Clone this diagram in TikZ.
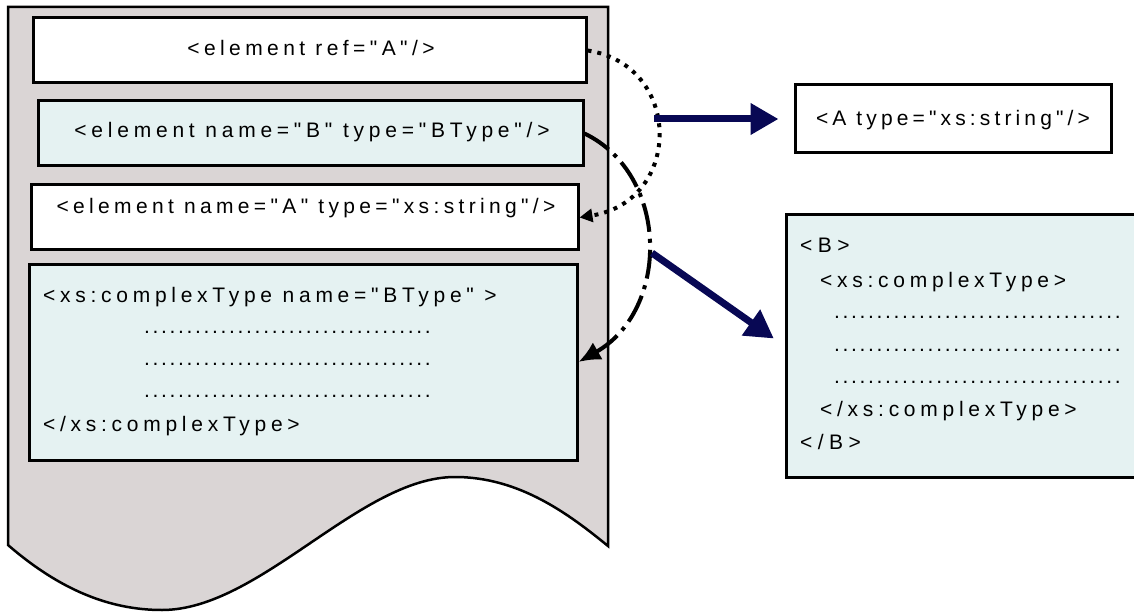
\documentclass[tikz,border=0pt]{standalone}
\usepackage{fontspec}
\setmainfont{Liberation Sans}
\newfontfamily\xsfont{Liberation Sans}
\usetikzlibrary{arrows.meta}
\definecolor{docgray}{RGB}{218,213,213}
\definecolor{lcyan}{RGB}{229,242,242}
\definecolor{mynavy}{RGB}{8,8,84}
\begin{document}
\begin{tikzpicture}[x=1pt,y=-1pt,
  box/.style={draw=black,line width=3pt,inner sep=0pt,fill=white},
  cbox/.style={box,fill=lcyan},
  txt/.style={inner sep=0pt,anchor=base,font=\xsfont\fontsize{21pt}{24pt}\selectfont\addfontfeature{LetterSpace=#1}},
  txt/.default=22.5,
  ltxt/.style={txt=#1,anchor=base west},
  ltxt/.default=22.5,
  dtxt/.style={txt=12.7,anchor=base west},
  dotarrow/.style={line width=4pt,dash pattern=on 4pt off 6pt,-{Triangle[length=13pt,width=13pt]}},
  dasharrow/.style={line width=4pt,dash pattern=on 29pt off 7pt on 4pt off 7pt,-{Latex[length=22pt,width=20pt]}},
  navyarrow/.style={draw=mynavy,line width=7pt,-{Triangle[length=28pt,width=30pt]}}]
\clip (0,0) rectangle (1134,612);
% document shape
\draw[line width=2.5pt,fill=docgray] (8,7) -- (608,7) -- (608,546)
  .. controls (570,515) and (520,477) .. (455,477)
  .. controls (360,477) and (260,610) .. (162,610)
  .. controls (110,610) and (60,590) .. (8,545) -- cycle;
% boxes
\node[box,minimum width=553pt,minimum height=65pt] (b1) at (309.5,50.5) {};
\node[cbox,minimum width=545pt,minimum height=65pt] (b2) at (310.5,133.5) {};
\node[box,minimum width=547pt,minimum height=65pt] (b3) at (304.5,217.5) {};
\node[cbox,minimum width=548pt,minimum height=196pt] (b4) at (303,362) {};
\node[box,minimum width=316pt,minimum height=68pt] (bA) at (953,119) {};
\node[cbox,minimum width=354pt,minimum height=262pt] (bB) at (963,346) {};
% texts
\node[txt=21] (t1) at (311,56) {<element ref="A"/>};
\node[txt=22.7] (t2) at (312,138) {<element name="B" type="BType"/>};
\node[txt=20.7] (t3) at (306,214) {<element name="A" type="xs:string"/>};
\node[ltxt] (t4a) at (43,302) {<xs:complexType name="BType" >};
\node[dtxt] (t4b) at (144,333) {..................................};
\node[dtxt] (t4c) at (144,365) {..................................};
\node[dtxt] (t4d) at (144,397) {..................................};
\node[ltxt] (t4e) at (43,431) {</xs:complexType>};
\node[txt=19.7] (tA) at (953,126) {<A type="xs:string"/>};
\node[ltxt=26] (tB1) at (800,253) {<B>};
\node[ltxt] (tB2) at (820,287) {<xs:complexType>};
\node[dtxt] (tB3) at (834,318) {..................................};
\node[dtxt] (tB4) at (834,351) {..................................};
\node[dtxt] (tB5) at (834,383) {..................................};
\node[ltxt] (tB6) at (820,416) {</xs:complexType>};
\node[ltxt=26] (tB7) at (800,449) {</B>};
% connectors
\draw[dotarrow] (b1.east) .. controls (683,65) and (683,201) .. (b3.east);
\draw[dasharrow] (b2.east) .. controls (670,175) and (670,310) .. (b4.east);
\coordinate (n1) at (654,119);
\coordinate (n2) at (652,253);
\draw[navyarrow,shorten >=15pt] (n1) -- (bA.west);
\draw[navyarrow,shorten >=13pt] (n2) -- (bB.west);
\end{tikzpicture}
\end{document}
